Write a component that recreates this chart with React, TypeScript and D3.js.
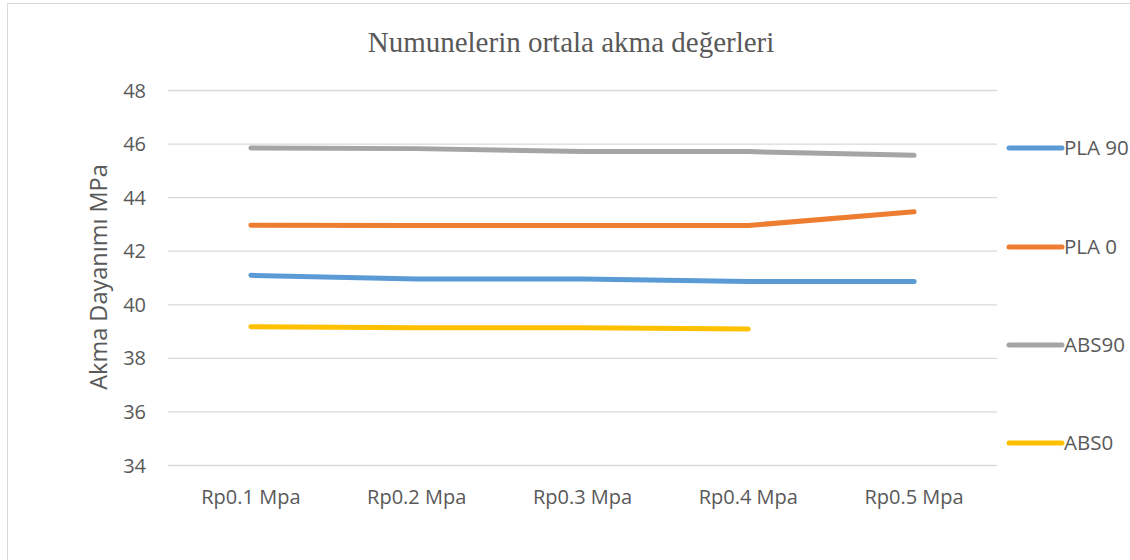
import React, { useEffect, useRef } from "react";
import * as d3 from "d3";

const categories = ["Rp0.1 Mpa", "Rp0.2 Mpa", "Rp0.3 Mpa", "Rp0.4 Mpa", "Rp0.5 Mpa"];
const pla90 = [41.1, 40.96, 40.96, 40.87, 40.87];
const pla0 = [42.97, 42.96, 42.96, 42.96, 43.47];
const abs90 = [45.85, 45.83, 45.72, 45.72, 45.58];
const abs0 = [39.18, 39.14, 39.14, 39.1];
const yTicks = [34, 36, 38, 40, 42, 44, 46, 48];

const series = [
  { name: "PLA 90", values: pla90, color: "#5B9BD5", legendY: 148 },
  { name: "PLA 0", values: pla0, color: "#ED7D31", legendY: 247 },
  { name: "ABS90", values: abs90, color: "#A5A5A5", legendY: 345 },
  { name: "ABS0", values: abs0, color: "#FFC000", legendY: 443 },
];

const W = 1130;
const H = 560;
const font = "'Open Sans', 'Liberation Sans', sans-serif";

export default function App() {
  const ref = useRef<SVGSVGElement>(null);

  useEffect(() => {
    const svg = d3.select(ref.current);
    svg.selectAll("*").remove();

    // chart frame
    svg.append("rect")
      .attr("x", 7.5).attr("y", 3.5)
      .attr("width", 1200).attr("height", 600)
      .attr("fill", "#fff").attr("stroke", "#d9d9d9");

    const x = d3.scaleBand().domain(categories).range([168, 997]);
    const y = d3.scaleLinear().domain([34, 48]).range([465.5, 90.5]);

    // gridlines
    svg.append("g")
      .selectAll("line")
      .data(yTicks)
      .join("line")
      .attr("x1", 168).attr("x2", 997)
      .attr("y1", (d) => y(d)).attr("y2", (d) => y(d))
      .attr("stroke", "#d9d9d9").attr("stroke-width", 1.3);

    // y tick labels
    svg.append("g")
      .selectAll("text")
      .data(yTicks)
      .join("text")
      .attr("x", 146).attr("y", (d) => y(d) + 7)
      .attr("text-anchor", "end")
      .attr("font-family", font).attr("font-size", 20)
      .attr("fill", "#595959")
      .text((d) => d);

    // x labels
    svg.append("g")
      .selectAll("text")
      .data(categories)
      .join("text")
      .attr("x", (d) => x(d)! + x.bandwidth() / 2).attr("y", 504)
      .attr("text-anchor", "middle")
      .attr("font-family", font).attr("font-size", 20)
      .attr("fill", "#595959")
      .text((d) => d);

    // lines
    const line = d3.line<number>()
      .x((d, i) => x(categories[i])! + x.bandwidth() / 2)
      .y((d) => y(d));

    series.forEach((s) => {
      svg.append("path")
        .datum(s.values)
        .attr("fill", "none")
        .attr("stroke", s.color)
        .attr("stroke-width", 5)
        .attr("stroke-linecap", "round")
        .attr("stroke-linejoin", "round")
        .attr("d", line);
    });

    // legend
    series.forEach((s) => {
      svg.append("line")
        .attr("x1", 1009).attr("x2", 1062)
        .attr("y1", s.legendY).attr("y2", s.legendY)
        .attr("stroke", s.color).attr("stroke-width", 5)
        .attr("stroke-linecap", "round");
      svg.append("text")
        .attr("x", 1064).attr("y", s.legendY + 7)
        .attr("font-family", font).attr("font-size", 20.5)
        .attr("fill", "#595959")
        .text(s.name);
    });

    // title
    svg.append("text")
      .attr("x", 571).attr("y", 52)
      .attr("text-anchor", "middle")
      .attr("font-family", "'Liberation Serif', serif")
      .attr("font-size", 29)
      .attr("fill", "#595959")
      .text("Numunelerin ortala akma değerleri");

    // y axis title
    svg.append("text")
      .attr("transform", "translate(107,277) rotate(-90)")
      .attr("text-anchor", "middle")
      .attr("font-family", font).attr("font-size", 23.5)
      .attr("fill", "#595959")
      .text("Akma Dayanımı MPa");
  }, []);

  return (
    <svg
      ref={ref}
      width={W}
      height={H}
      style={{ position: "absolute", left: 0, top: 0, display: "block" }}
    />
  );
}
